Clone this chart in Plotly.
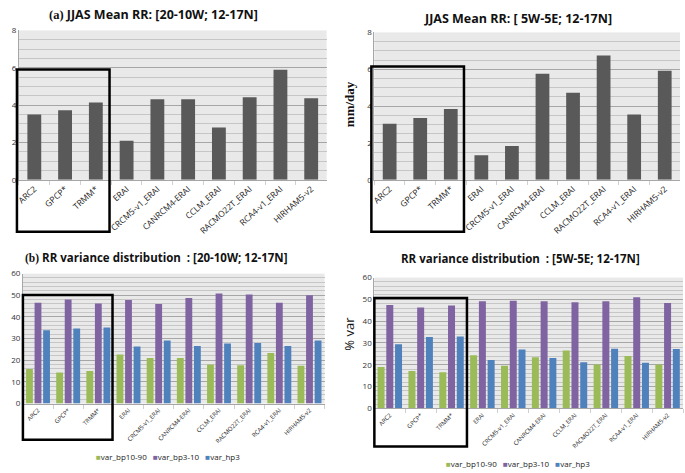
import plotly.graph_objects as go

# ─── Data ─────────────────────────────────────────────────────────────────────
MODELS = ["ARC2", "GPCP*", "TRMM*", "ERAI", "CRCM5-v1_ERAI", "CANRCM4-ERAI",
          "CCLM_ERAI", "RACMO22T_ERAI", "RCA4-v1_ERAI", "HIRHAM5-v2"]

RR_WEST = [3.5, 3.73, 4.14, 2.09, 4.32, 4.32, 2.8, 4.42, 5.9, 4.37]
RR_CENTRAL = [3.05, 3.35, 3.85, 1.33, 1.83, 5.75, 4.72, 6.75, 3.55, 5.92]

VAR_BP10_90_WEST = [15.9, 14.3, 15.0, 22.7, 21.0, 21.0, 18.0, 17.7, 23.3, 17.4]
VAR_BP3_10_WEST = [46.6, 48.0, 46.2, 47.8, 46.0, 48.7, 50.8, 50.4, 46.6, 50.0]
VAR_HP3_WEST = [33.8, 34.7, 35.1, 26.3, 29.1, 26.6, 27.7, 28.0, 26.6, 29.1]

VAR_BP10_90_CENTRAL = [19.0, 17.2, 16.6, 24.4, 19.6, 23.4, 26.6, 20.1, 24.0, 20.1]
VAR_BP3_10_CENTRAL = [47.4, 46.3, 47.2, 49.1, 49.4, 49.1, 48.7, 49.1, 51.0, 48.3]
VAR_HP3_CENTRAL = [29.4, 32.7, 33.0, 22.2, 27.0, 23.1, 21.2, 27.3, 20.9, 27.2]

SERIES = ["var_bp10-90", "var_bp3-10", "var_hp3"]

# ─── Colors ───────────────────────────────────────────────────────────────────
COLORS = {
    "bar":    "#595959",
    "green":  "#9bbb59",
    "purple": "#8064a2",
    "blue":   "#4f81bd",
    "plot":   "#e9e9e9",
    "minor":  "#c6c6c6",
    "major":  "#a6a6a6",
    "text":   "#333333",
}
SERIES_COLORS = [COLORS["green"], COLORS["purple"], COLORS["blue"]]

W, H = 685, 473
SANS = "Open Sans, sans-serif"


def px_x(a, b):
    return [a / W, b / W]


def px_y(top, bottom):
    return [1 - bottom / H, 1 - top / H]


fig = go.Figure()

# top row: mean rainfall
for rr, ax in [(RR_WEST, "1"), (RR_CENTRAL, "2")]:
    fig.add_trace(go.Bar(
        x=MODELS, y=rr, width=0.45,
        marker=dict(color=COLORS["bar"], line=dict(width=0)),
        xaxis="x" + ax, yaxis="y" + ax, showlegend=False,
    ))

# bottom row: variance distribution
for vals, ax in [
    ((VAR_BP10_90_WEST, VAR_BP3_10_WEST, VAR_HP3_WEST), "3"),
    ((VAR_BP10_90_CENTRAL, VAR_BP3_10_CENTRAL, VAR_HP3_CENTRAL), "4"),
]:
    for name, v, c in zip(SERIES, vals, SERIES_COLORS):
        fig.add_trace(go.Bar(
            x=MODELS, y=v, name=name,
            marker=dict(color=c, line=dict(width=0)),
            xaxis="x" + ax, yaxis="y" + ax, showlegend=False,
        ))


def xaxis(domain, anchor, size, angle):
    return dict(
        domain=domain, anchor=anchor, type="category",
        tickangle=angle, tickfont=dict(size=size, color="#222222", family=SANS),
        showline=True, linecolor=COLORS["major"], linewidth=1,
        ticks="outside", tickson="boundaries", ticklen=4, tickcolor="#d0d0d0",
        showgrid=False, fixedrange=True,
    )


def yaxis(domain, anchor, rng, dtick, minor_dtick):
    return dict(
        domain=domain, anchor=anchor, range=rng, dtick=dtick,
        tickfont=dict(size=8, color=COLORS["text"], family=SANS),
        showline=True, linecolor=COLORS["major"], linewidth=1,
        gridcolor=COLORS["major"], gridwidth=1, zeroline=False,
        minor=dict(dtick=minor_dtick, showgrid=True, gridcolor=COLORS["minor"], gridwidth=1),
        ticks="", fixedrange=True,
    )


fig.update_layout(
    width=W, height=H,
    paper_bgcolor="white", plot_bgcolor=COLORS["plot"],
    font=dict(family=SANS, color=COLORS["text"]),
    margin=dict(l=0, r=0, t=0, b=0),
    barmode="group", bargap=0.15, bargroupgap=0.2,
    showlegend=False,
    xaxis=xaxis(px_x(16, 325), "y", 8.5, -42),
    yaxis=yaxis(px_y(25, 178), "x", [0, 8], 2, 0.5),
    xaxis2=xaxis(px_x(373, 680), "y2", 8.5, -42),
    yaxis2=yaxis(px_y(27, 178), "x2", [0, 8], 2, 0.5),
    xaxis3=xaxis(px_x(20, 323), "y3", 6, -45),
    yaxis3=yaxis(px_y(274, 407), "x3", [0, 60], 10, 2),
    xaxis4=xaxis(px_x(373, 683), "y4", 6, -45),
    yaxis4=yaxis(px_y(278, 412), "x4", [0, 60], 10, 2),
)

SERIF = "font-family:Liberation Serif"
titles = [
    (f"<span style='{SERIF}'>(a)</span> JJAS Mean RR: [20-10W; 12-17N]", 151, 9, 12.5),
    ("JJAS Mean RR: [ 5W-5E; 12-17N]", 517, 13, 12.5),
    (f"<span style='{SERIF}'>(b)</span> RR variance distribution  : [20-10W; 12-17N]", 154, 257, 11.5),
    ("RR variance distribution  : [5W-5E; 12-17N]", 520, 259, 11.5),
]
for text, x, y, size in titles:
    fig.add_annotation(text=f"<b>{text}</b>", xref="paper", yref="paper",
                       x=x / W, y=1 - y / H, xanchor="center", yanchor="middle",
                       showarrow=False,
                       font=dict(size=size, color="#111111", family=SANS))

fig.add_annotation(text="<b>mm/day</b>", xref="paper", yref="paper", x=348 / W, y=1 - 100 / H,
                   xanchor="center", yanchor="middle", textangle=-90, showarrow=False,
                   font=dict(size=13, family="Liberation Serif, serif", color="#111111"))
fig.add_annotation(text="% var", xref="paper", yref="paper", x=348 / W, y=1 - 335 / H,
                   xanchor="center", yanchor="middle", textangle=-90, showarrow=False,
                   font=dict(size=13, family=SANS, color="#111111"))

# legends for the variance panels
legend_text = "   ".join(
    f"<span style='color:{c}'>■</span>{name}" for name, c in zip(SERIES, SERIES_COLORS)
)
for x, y in [(166, 461), (517, 468)]:
    fig.add_annotation(text=legend_text, xref="paper", yref="paper",
                       x=x / W, y=1 - y / H, xanchor="center", yanchor="middle",
                       showarrow=False, font=dict(size=8, color="#222222", family=SANS))

# black boxes around the observation datasets
for x0, x1, y0, y1 in [(14, 107, 65, 231), (370, 463, 62, 231),
                       (20, 110, 296, 444), (373, 466, 299, 451)]:
    fig.add_shape(type="rect", xref="paper", yref="paper",
                  x0=x0 / W, x1=x1 / W, y0=1 - y1 / H, y1=1 - y0 / H,
                  line=dict(color="black", width=2.5), fillcolor="rgba(0,0,0,0)")

fig.write_html("out.html", config={"displayModeBar": False},
               post_script="document.body.style.margin = '0px';")
